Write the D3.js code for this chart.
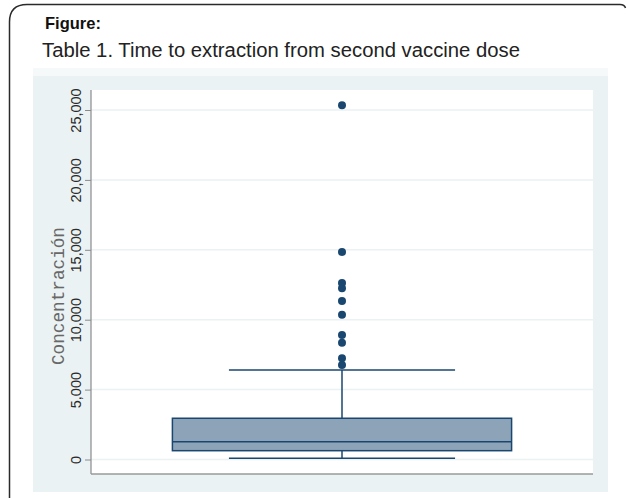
<!DOCTYPE html>
<html>
<head>
<meta charset="utf-8">
<script src="https://cdn.jsdelivr.net/npm/d3@7"></script>
<style>
  html, body { margin: 0; padding: 0; background: #ffffff; }
  svg { display: block; }
</style>
</head>
<body>
<svg id="chart" width="627" height="498"></svg>
<script>
// Box-plot summary of the measured concentration
const groups = ["Concentración"];
const boxStats = [{ group: "Concentración", lowWhisker: 90, q1: 630, median: 1270, q3: 2950, highWhisker: 6400 }];
const outliers = [25340, 14850, 12620, 12250, 11340, 10360, 8910, 8360, 7240, 6760];
const yTicks = [0, 5000, 10000, 15000, 20000, 25000];

const svg = d3.select("#chart");
const navy = "#1a476f";

// Rounded figure frame (top and left edges)
svg.append("path")
  .attr("d", "M9.5,498 L9.5,22 Q9.5,4.5 27,4.5 L620,4.5 Q624.5,4.5 625.5,8")
  .attr("fill", "none").attr("stroke", "#2a2a2a").attr("stroke-width", 1.5);

svg.append("text").attr("x", 45).attr("y", 28.5)
  .attr("font-family", "Liberation Sans, Arial, sans-serif")
  .attr("font-weight", "bold").attr("font-size", 16.5).attr("fill", "#111")
  .text("Figure:");

svg.append("text").attr("x", 42).attr("y", 57)
  .attr("font-family", "Liberation Sans, Arial, sans-serif")
  .attr("font-size", 20).attr("fill", "#222")
  .attr("textLength", 478).attr("lengthAdjust", "spacingAndGlyphs")
  .text("Table 1. Time to extraction from second vaccine dose");

// Graph region and plot region
svg.append("rect").attr("x", 33).attr("y", 68).attr("width", 575).attr("height", 8).attr("fill", "#f6f9fa");
svg.append("rect").attr("x", 33).attr("y", 76).attr("width", 575).attr("height", 416).attr("fill", "#eaf2f3");
const plot = { left: 91, right: 593, top: 90, bottom: 474 };
svg.append("rect").attr("x", plot.left).attr("y", plot.top)
  .attr("width", plot.right - plot.left).attr("height", plot.bottom - plot.top).attr("fill", "#ffffff");

const y = d3.scaleLinear().domain([0, 25000]).range([459.5, 110]);
const x = d3.scaleBand().domain(groups).range([plot.left, plot.right]).paddingInner(0).paddingOuter(0.24);

// Gridlines
svg.append("g").selectAll("line").data(yTicks).join("line")
  .attr("x1", plot.left).attr("x2", plot.right)
  .attr("y1", d => y(d)).attr("y2", d => y(d))
  .attr("stroke", "#eaf2f3").attr("stroke-width", 1.5);

// Y axis
const yAxis = d3.axisLeft(y).tickValues(yTicks).tickFormat(d3.format(",")).tickSize(6).tickPadding(3);
const gy = svg.append("g").attr("transform", `translate(${plot.left},0)`).call(yAxis);
gy.select(".domain").remove();
gy.selectAll(".tick line").attr("stroke", "#8a8a8a");
gy.selectAll(".tick text")
  .attr("font-family", "Liberation Sans, Arial, sans-serif").attr("font-size", 14.5).attr("fill", "#2a2a2a")
  .attr("transform", "rotate(-90)")
  .attr("x", 0).attr("y", -10).attr("dy", 0)
  .attr("text-anchor", "middle");
svg.append("line").attr("x1", plot.left).attr("x2", plot.left).attr("y1", plot.top).attr("y2", plot.bottom)
  .attr("stroke", "#8a8a8a").attr("stroke-width", 1.2);
svg.append("line").attr("x1", plot.left).attr("x2", plot.right).attr("y1", plot.bottom).attr("y2", plot.bottom)
  .attr("stroke", "#9a9a9a").attr("stroke-width", 1.5);

// Axis title
svg.append("text")
  .attr("transform", `translate(63.5,296) rotate(-90)`)
  .attr("text-anchor", "middle")
  .attr("font-family", "Liberation Mono, Courier New, monospace").attr("font-size", 17.7).attr("fill", "#686868")
  .text("Concentración");

// Box and whiskers
const g = svg.append("g");
boxStats.forEach(s => {
  const x0 = x(s.group), bw = x.bandwidth(), cx = x0 + bw / 2, capHalf = bw / 3;
  g.append("line").attr("x1", cx).attr("x2", cx).attr("y1", y(s.q3)).attr("y2", y(s.highWhisker))
    .attr("stroke", navy).attr("stroke-width", 1.5);
  g.append("line").attr("x1", cx).attr("x2", cx).attr("y1", y(s.q1)).attr("y2", y(s.lowWhisker))
    .attr("stroke", navy).attr("stroke-width", 1.5);
  g.append("line").attr("x1", cx - capHalf).attr("x2", cx + capHalf).attr("y1", y(s.highWhisker)).attr("y2", y(s.highWhisker))
    .attr("stroke", navy).attr("stroke-width", 1.5);
  g.append("line").attr("x1", cx - capHalf).attr("x2", cx + capHalf).attr("y1", y(s.lowWhisker)).attr("y2", y(s.lowWhisker))
    .attr("stroke", navy).attr("stroke-width", 1.5);
  g.append("rect").attr("x", x0).attr("y", y(s.q3)).attr("width", bw).attr("height", y(s.q1) - y(s.q3))
    .attr("fill", "#8da3b8").attr("stroke", navy).attr("stroke-width", 1.5);
  g.append("line").attr("x1", x0).attr("x2", x0 + bw).attr("y1", y(s.median)).attr("y2", y(s.median))
    .attr("stroke", navy).attr("stroke-width", 1.5);
  g.selectAll("circle.out").data(outliers).join("circle").attr("class", "out")
    .attr("cx", cx).attr("cy", d => y(d)).attr("r", 4).attr("fill", navy);
});
</script>
</body>
</html>
